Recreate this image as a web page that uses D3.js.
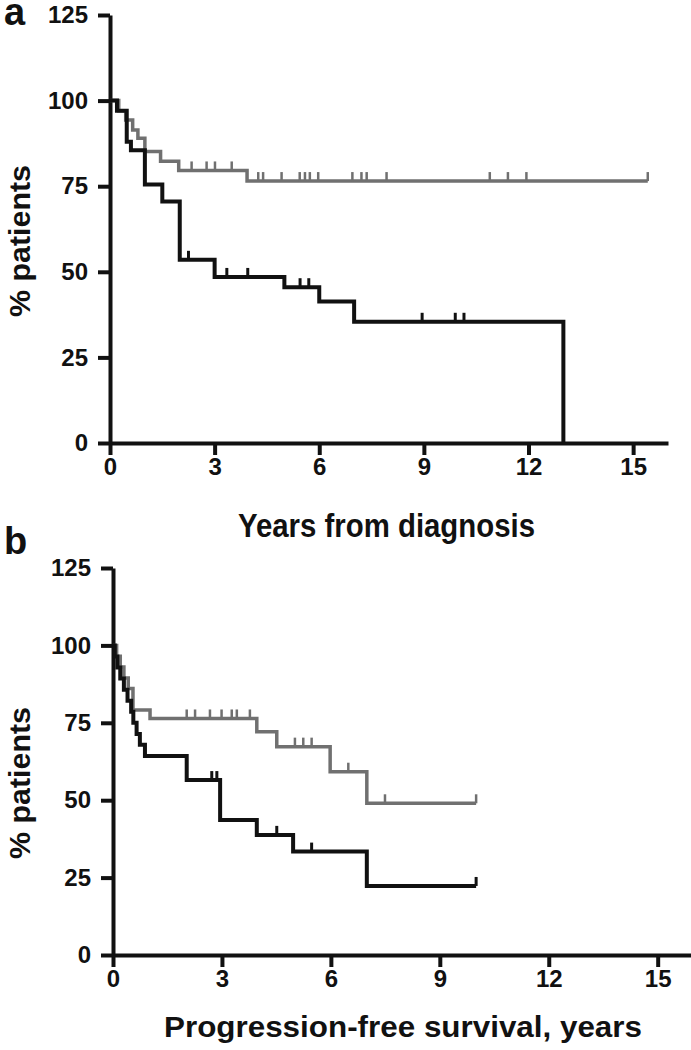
<!DOCTYPE html>
<html>
<head>
<meta charset="utf-8">
<script src="https://cdn.jsdelivr.net/npm/d3@7"></script>
<style>
  html, body { margin: 0; padding: 0; background: #fff; }
  svg { display: block; }
  .axis text { font-family: "Liberation Sans", Arial, sans-serif; font-weight: bold; font-size: 24px; fill: #111; }
  .axis path, .axis line { stroke: #111; stroke-width: 4; }
  .lbl { font-family: "Liberation Sans", Arial, sans-serif; font-weight: bold; fill: #111; }
</style>
</head>
<body>
<svg width="691" height="1050"></svg>
<script>
// panel a: overall survival (years from diagnosis)
var aBlackT = [0, 0.2, 0.48, 0.6, 1.0, 1.5, 2.0, 3.0, 5.0, 6.0, 7.0, 13.0];
var aBlackS = [100, 97, 88, 85.5, 75.5, 70.5, 53.5, 48.5, 45.5, 41.3, 35.4, 0];
var aBlackCens = [2.25, 3.35, 3.95, 5.45, 5.7, 8.95, 9.9, 10.15];

var aGrayT = [0, 0.25, 0.45, 0.65, 0.8, 1.0, 1.45, 1.97, 3.93];
var aGrayS = [100, 97, 94.3, 91.4, 89, 85.1, 82.3, 79.6, 76.5];
var aGrayEnd = 15.42;
var aGrayCens = [2.34, 2.77, 3.01, 3.49, 4.25, 4.39, 4.92, 5.44, 5.59, 5.73, 5.97, 6.95, 7.21, 7.36, 7.93, 10.89, 11.41, 11.94, 15.42];

// panel b: progression-free survival
var bBlackT = [0, 0.05, 0.12, 0.2, 0.3, 0.4, 0.5, 0.56, 0.65, 0.74, 0.88, 2.03, 2.95, 3.96, 4.96, 6.99];
var bBlackS = [100, 96.4, 92.9, 89.3, 85.7, 82.1, 78.6, 75, 71.4, 67.9, 64.3, 56.5, 43.6, 38.8, 33.4, 22.3];
var bBlackEnd = 10.0;
var bBlackCens = [2.72, 2.86, 4.51, 5.47, 10.0];

var bGrayT = [0, 0.1, 0.2, 0.3, 0.42, 0.55, 1.02, 3.96, 4.51, 5.98, 6.99];
var bGrayS = [100, 96.5, 93, 89.5, 86.1, 79.1, 76.4, 72.1, 67.3, 59.2, 49.0];
var bGrayEnd = 10.0;
var bGrayCens = [2.03, 2.26, 2.67, 2.99, 3.27, 3.41, 3.77, 5.01, 5.24, 5.47, 6.48, 7.49, 10.0];

var xTicks = [0, 3, 6, 9, 12, 15];
var yTicks = [0, 25, 50, 75, 100, 125];

var BLACK = "#111", GRAY = "#707070";

var svg = d3.select("svg");

function survAt(T, S, t) {
  var s = S[0];
  for (var i = 0; i < T.length; i++) { if (T[i] <= t) s = S[i]; }
  return s;
}

function panel(p) {
  var x = d3.scaleLinear().domain([0, 16]).range(p.xr);
  var y = d3.scaleLinear().domain([0, 125]).range(p.yr);
  var g = svg.append("g");

  g.append("g").attr("class", "axis").attr("transform", "translate(0," + y(0) + ")")
    .call(d3.axisBottom(x).tickValues(xTicks).tickSize(12).tickSizeOuter(0).tickPadding(3));
  g.append("g").attr("class", "axis").attr("transform", "translate(" + x(0) + ",0)")
    .call(d3.axisLeft(y).tickValues(yTicks).tickSize(12).tickSizeOuter(0).tickPadding(10));

  var line = d3.line().x(function (d) { return x(d[0]); }).y(function (d) { return y(d[1]); })
    .curve(d3.curveStepAfter);

  p.curves.forEach(function (c) {
    var pts = c.T.map(function (t, i) { return [t, c.S[i]]; });
    if (c.end != null) pts.push([c.end, c.S[c.S.length - 1]]);
    g.append("path").attr("d", line(pts)).attr("fill", "none")
      .attr("stroke", c.color).attr("stroke-width", c.w).attr("stroke-linejoin", "miter");
    g.selectAll(null).data(c.cens).enter().append("line")
      .attr("x1", function (d) { return x(d); }).attr("x2", function (d) { return x(d); })
      .attr("y1", function (d) { return y(survAt(c.T, c.S, d)); })
      .attr("y2", function (d) { return y(survAt(c.T, c.S, d)) - 9; })
      .attr("stroke", c.color).attr("stroke-width", c.tw);
  });

  svg.append("text").attr("class", "lbl").attr("x", 4).attr("y", p.letterY)
    .attr("font-size", 38).text(p.letter);

  svg.append("text").attr("class", "lbl").attr("x", p.titleX).attr("y", p.titleY)
    .attr("text-anchor", "middle").attr("font-size", p.titleSize)
    .attr("textLength", p.titleLen).attr("lengthAdjust", "spacingAndGlyphs").text(p.title);

  svg.append("text").attr("class", "lbl")
    .attr("transform", "translate(" + p.ylabX + "," + p.ylabY + ") rotate(-90)")
    .attr("text-anchor", "middle").attr("font-size", 30)
    .attr("textLength", 152).attr("lengthAdjust", "spacingAndGlyphs").text("%  patients");
}

panel({
  xr: [110, 668], yr: [443, 15], letter: "a", letterY: 25,
  title: "Years from diagnosis", titleX: 386.5, titleY: 537, titleSize: 33, titleLen: 297,
  ylabX: 30, ylabY: 241,
  curves: [
    { T: aGrayT, S: aGrayS, end: aGrayEnd, cens: aGrayCens, color: GRAY, w: 3.5, tw: 2.5 },
    { T: aBlackT, S: aBlackS, end: null, cens: aBlackCens, color: BLACK, w: 4, tw: 3 }
  ]
});

panel({
  xr: [113, 694], yr: [955, 568], letter: "b", letterY: 554,
  title: "Progression-free survival, years", titleX: 403, titleY: 1037, titleSize: 30, titleLen: 478,
  ylabX: 30, ylabY: 783,
  curves: [
    { T: bGrayT, S: bGrayS, end: bGrayEnd, cens: bGrayCens, color: GRAY, w: 3.5, tw: 2.5 },
    { T: bBlackT, S: bBlackS, end: bBlackEnd, cens: bBlackCens, color: BLACK, w: 4, tw: 3 }
  ]
});
</script>
</body>
</html>
